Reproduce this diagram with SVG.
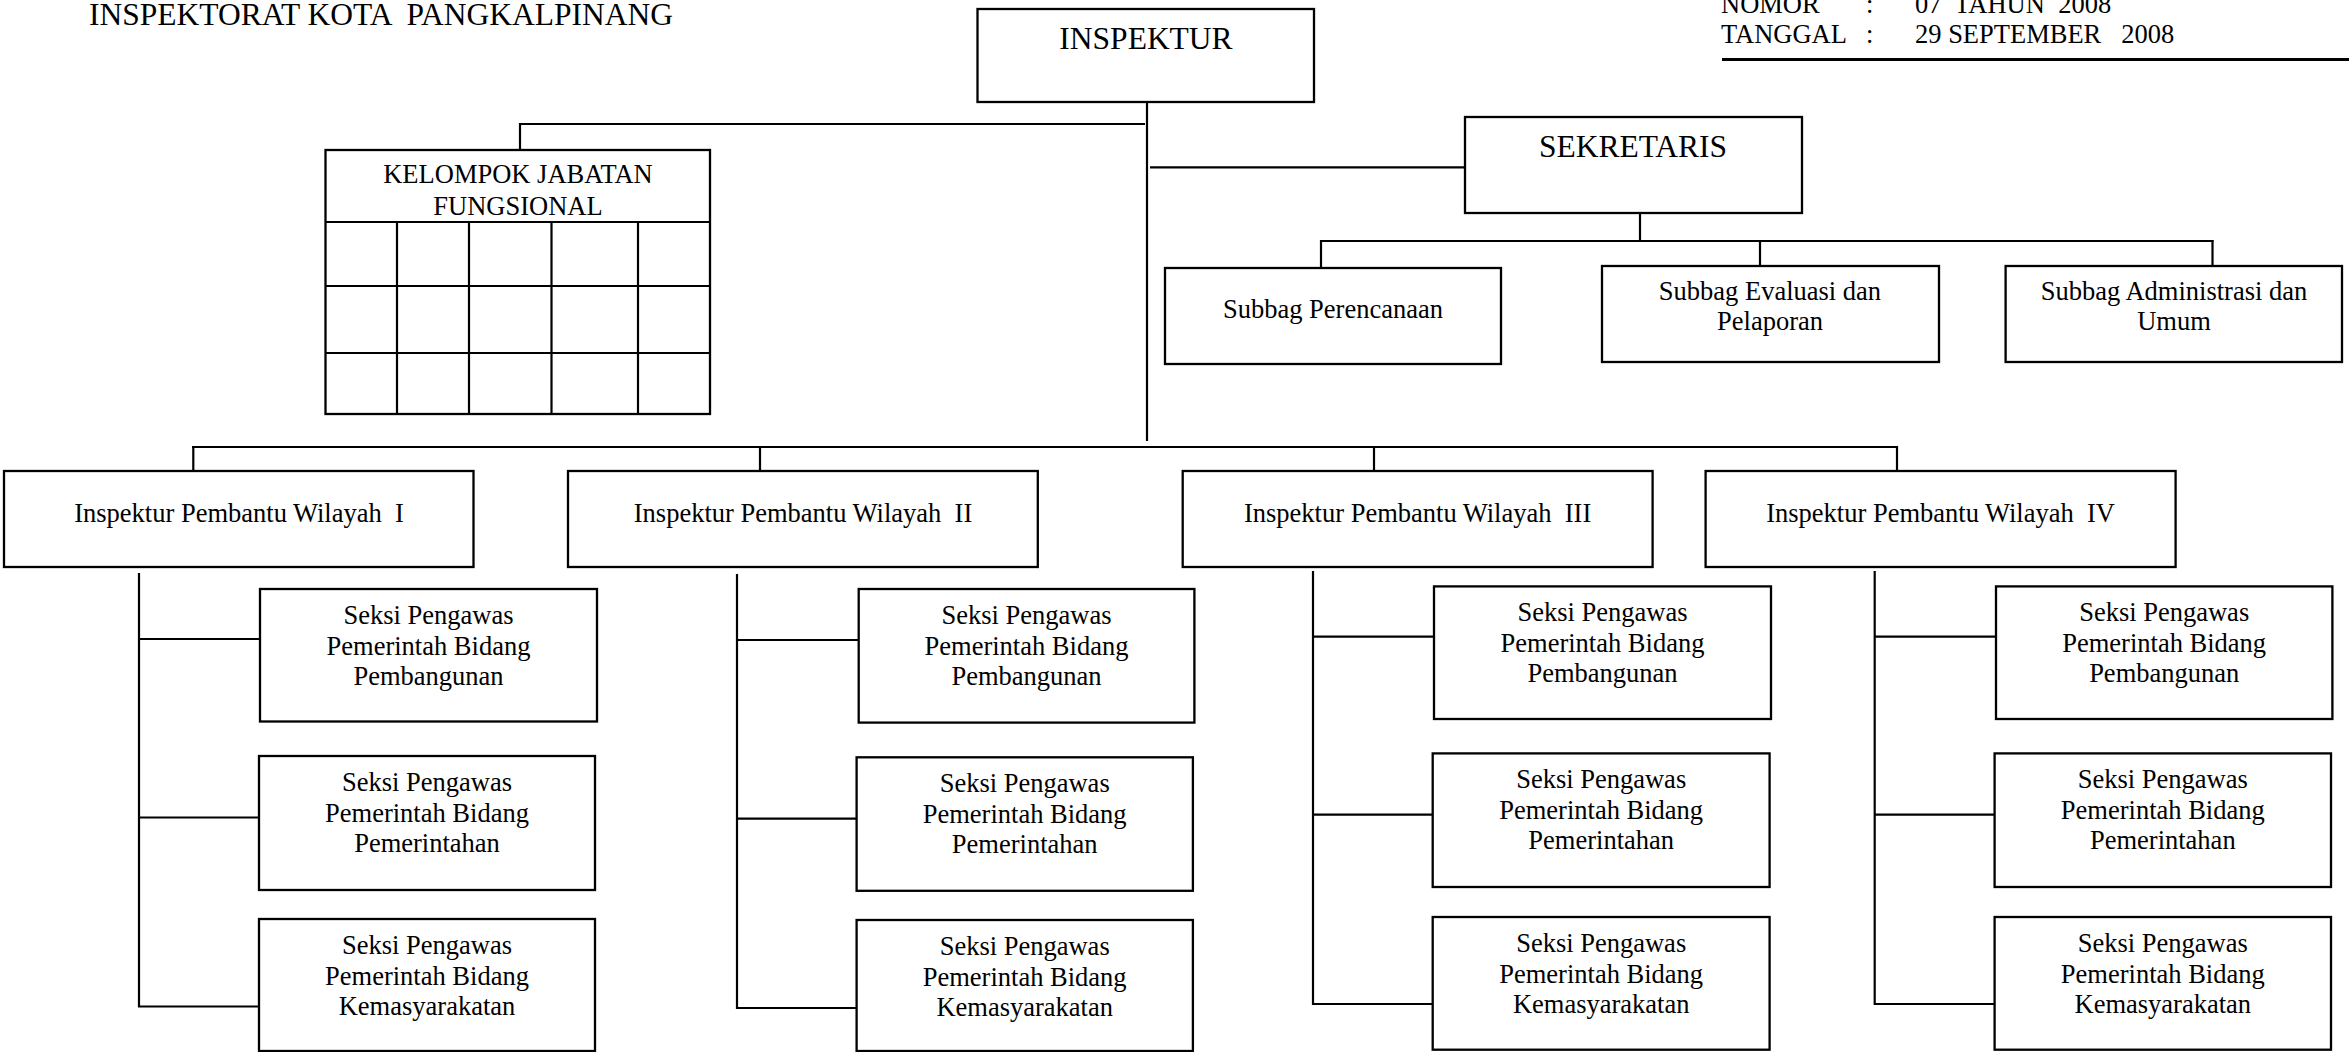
<svg xmlns="http://www.w3.org/2000/svg" width="2349" height="1052" viewBox="0 0 2349 1052">
<style>
text{font-family:"Liberation Serif","Times New Roman",serif;fill:#000;white-space:pre}
.s{font-size:26.5px}
.b{font-size:31.5px}
.m{text-anchor:middle}
rect{fill:#fff;stroke:#000;stroke-width:2.3}
.c line{stroke:#000;stroke-width:2.2}
.g line{stroke:#000;stroke-width:2.2}
</style>
<rect x="0" y="0" width="2349" height="1052" style="stroke:none"/>
<g id="header">
<text class="b" x="89" y="25">INSPEKTORAT KOTA  PANGKALPINANG</text>
<text class="s" x="1721" y="13">NOMOR</text>
<text class="s" x="1866" y="13">:</text>
<text class="s" x="1915" y="13">07  TAHUN  2008</text>
<text class="s" x="1721" y="43">TANGGAL</text>
<text class="s" x="1866" y="43">:</text>
<text class="s" x="1915" y="43">29 SEPTEMBER   2008</text>
<line x1="1722" y1="59.5" x2="2349" y2="59.5" stroke="#000" stroke-width="3"/>
</g>
<g class="c" id="connectors">
<line x1="1147" y1="103" x2="1147" y2="441"/>
<line x1="520" y1="124" x2="1145" y2="124"/>
<line x1="520" y1="123" x2="520" y2="150"/>
<line x1="1150" y1="167.3" x2="1465" y2="167.3"/>
<line x1="1640" y1="213" x2="1640" y2="241"/>
<line x1="1320" y1="241" x2="2213.5" y2="241"/>
<line x1="1321" y1="240" x2="1321" y2="268"/>
<line x1="1760" y1="240" x2="1760" y2="266"/>
<line x1="2212.5" y1="240" x2="2212.5" y2="266"/>
<line x1="192" y1="447" x2="1898" y2="447"/>
<line x1="193.3" y1="446" x2="193.3" y2="471"/>
<line x1="760" y1="446" x2="760" y2="471"/>
<line x1="1374" y1="446" x2="1374" y2="471"/>
<line x1="1897" y1="446" x2="1897" y2="471"/>
<line x1="139" y1="573" x2="139" y2="1007"/>
<line x1="138" y1="639" x2="260" y2="639"/>
<line x1="138" y1="817.5" x2="259" y2="817.5"/>
<line x1="138" y1="1006.5" x2="259" y2="1006.5"/>
<line x1="737" y1="574" x2="737" y2="1009"/>
<line x1="736" y1="640" x2="858.7" y2="640"/>
<line x1="736" y1="818.6" x2="856.6" y2="818.6"/>
<line x1="736" y1="1008" x2="856.6" y2="1008"/>
<line x1="1313" y1="571" x2="1313" y2="1005"/>
<line x1="1312" y1="636.7" x2="1434" y2="636.7"/>
<line x1="1312" y1="814.7" x2="1432.7" y2="814.7"/>
<line x1="1312" y1="1004" x2="1432.7" y2="1004"/>
<line x1="1874.7" y1="571" x2="1874.7" y2="1005"/>
<line x1="1874" y1="636.7" x2="1996" y2="636.7"/>
<line x1="1874" y1="814.7" x2="1994.6" y2="814.7"/>
<line x1="1874" y1="1004" x2="1994.6" y2="1004"/>
</g>
<g id="inspektur">
<rect x="977.5" y="9" width="336.5" height="93"/>
<text class="b m" x="1146" y="49">INSPEKTUR</text>
</g>
<g id="kjf" class="g">
<rect x="325.5" y="150" width="384.5" height="264"/>
<line x1="325.5" y1="222" x2="710" y2="222"/>
<line x1="325.5" y1="286" x2="710" y2="286"/>
<line x1="325.5" y1="353" x2="711" y2="353"/>
<line x1="397" y1="222" x2="397" y2="414"/>
<line x1="469" y1="222" x2="469" y2="414"/>
<line x1="551.5" y1="222" x2="551.5" y2="414"/>
<line x1="638" y1="222" x2="638" y2="414"/>
<text class="s m" x="518" y="183">KELOMPOK JABATAN</text>
<text class="s m" x="518" y="214.5">FUNGSIONAL</text>
</g>
<g id="sekretaris">
<rect x="1465" y="117" width="337" height="96"/>
<text class="b m" x="1633" y="157">SEKRETARIS</text>
</g>
<g id="subbag-perencanaan">
<rect x="1165" y="268" width="336" height="96"/>
<text class="s m" x="1333" y="318">Subbag Perencanaan</text>
</g>
<g id="subbag-evaluasi">
<rect x="1602" y="266" width="337" height="96"/>
<text class="s m" x="1770" y="300">Subbag Evaluasi dan</text>
<text class="s m" x="1770" y="330">Pelaporan</text>
</g>
<g id="subbag-administrasi">
<rect x="2005.6" y="266" width="336.4" height="96"/>
<text class="s m" x="2174" y="300">Subbag Administrasi dan</text>
<text class="s m" x="2174" y="330">Umum</text>
</g>
<g id="wilayah-1">
<rect x="4" y="471" width="469.5" height="96"/>
<text class="s m" x="239" y="522">Inspektur Pembantu Wilayah  I</text>
</g>
<g id="wilayah-2">
<rect x="568" y="471" width="469.8" height="96"/>
<text class="s m" x="803" y="522">Inspektur Pembantu Wilayah  II</text>
</g>
<g id="wilayah-3">
<rect x="1182.7" y="471" width="469.9" height="96"/>
<text class="s m" x="1417.6" y="522">Inspektur Pembantu Wilayah  III</text>
</g>
<g id="wilayah-4">
<rect x="1705.6" y="471" width="470" height="96"/>
<text class="s m" x="1940.6" y="522">Inspektur Pembantu Wilayah  IV</text>
</g>
<g id="w1-pembangunan">
<rect x="260" y="589" width="337" height="132.5"/>
<text class="s m" x="428.5" y="624">Seksi Pengawas</text>
<text class="s m" x="428.5" y="654.5">Pemerintah Bidang</text>
<text class="s m" x="428.5" y="685">Pembangunan</text>
</g>
<g id="w1-pemerintahan">
<rect x="259" y="756" width="336" height="134"/>
<text class="s m" x="427" y="791">Seksi Pengawas</text>
<text class="s m" x="427" y="821.5">Pemerintah Bidang</text>
<text class="s m" x="427" y="852">Pemerintahan</text>
</g>
<g id="w1-kemasyarakatan">
<rect x="259" y="919" width="336" height="132"/>
<text class="s m" x="427" y="954">Seksi Pengawas</text>
<text class="s m" x="427" y="984.5">Pemerintah Bidang</text>
<text class="s m" x="427" y="1015">Kemasyarakatan</text>
</g>
<g id="w2-pembangunan">
<rect x="858.7" y="589" width="335.7" height="133.6"/>
<text class="s m" x="1026.5" y="624">Seksi Pengawas</text>
<text class="s m" x="1026.5" y="654.5">Pemerintah Bidang</text>
<text class="s m" x="1026.5" y="685">Pembangunan</text>
</g>
<g id="w2-pemerintahan">
<rect x="856.6" y="757.3" width="336.3" height="133.5"/>
<text class="s m" x="1024.7" y="792.3">Seksi Pengawas</text>
<text class="s m" x="1024.7" y="822.8">Pemerintah Bidang</text>
<text class="s m" x="1024.7" y="853.3">Pemerintahan</text>
</g>
<g id="w2-kemasyarakatan">
<rect x="856.6" y="920" width="336.3" height="131"/>
<text class="s m" x="1024.7" y="955">Seksi Pengawas</text>
<text class="s m" x="1024.7" y="985.5">Pemerintah Bidang</text>
<text class="s m" x="1024.7" y="1016">Kemasyarakatan</text>
</g>
<g id="w3-pembangunan">
<rect x="1434" y="586.4" width="337" height="132.6"/>
<text class="s m" x="1602.5" y="621.4">Seksi Pengawas</text>
<text class="s m" x="1602.5" y="651.9">Pemerintah Bidang</text>
<text class="s m" x="1602.5" y="682.4">Pembangunan</text>
</g>
<g id="w3-pemerintahan">
<rect x="1432.7" y="753.4" width="336.9" height="133.6"/>
<text class="s m" x="1601.2" y="788.4">Seksi Pengawas</text>
<text class="s m" x="1601.2" y="818.9">Pemerintah Bidang</text>
<text class="s m" x="1601.2" y="849.4">Pemerintahan</text>
</g>
<g id="w3-kemasyarakatan">
<rect x="1432.7" y="917" width="336.9" height="132.7"/>
<text class="s m" x="1601.2" y="952">Seksi Pengawas</text>
<text class="s m" x="1601.2" y="982.5">Pemerintah Bidang</text>
<text class="s m" x="1601.2" y="1013">Kemasyarakatan</text>
</g>
<g id="w4-pembangunan">
<rect x="1996" y="586.4" width="336.4" height="132.6"/>
<text class="s m" x="2164.2" y="621.4">Seksi Pengawas</text>
<text class="s m" x="2164.2" y="651.9">Pemerintah Bidang</text>
<text class="s m" x="2164.2" y="682.4">Pembangunan</text>
</g>
<g id="w4-pemerintahan">
<rect x="1994.6" y="753.4" width="336.4" height="133.6"/>
<text class="s m" x="2162.8" y="788.4">Seksi Pengawas</text>
<text class="s m" x="2162.8" y="818.9">Pemerintah Bidang</text>
<text class="s m" x="2162.8" y="849.4">Pemerintahan</text>
</g>
<g id="w4-kemasyarakatan">
<rect x="1994.6" y="917" width="336.4" height="132.7"/>
<text class="s m" x="2162.8" y="952">Seksi Pengawas</text>
<text class="s m" x="2162.8" y="982.5">Pemerintah Bidang</text>
<text class="s m" x="2162.8" y="1013">Kemasyarakatan</text>
</g>
</svg>
